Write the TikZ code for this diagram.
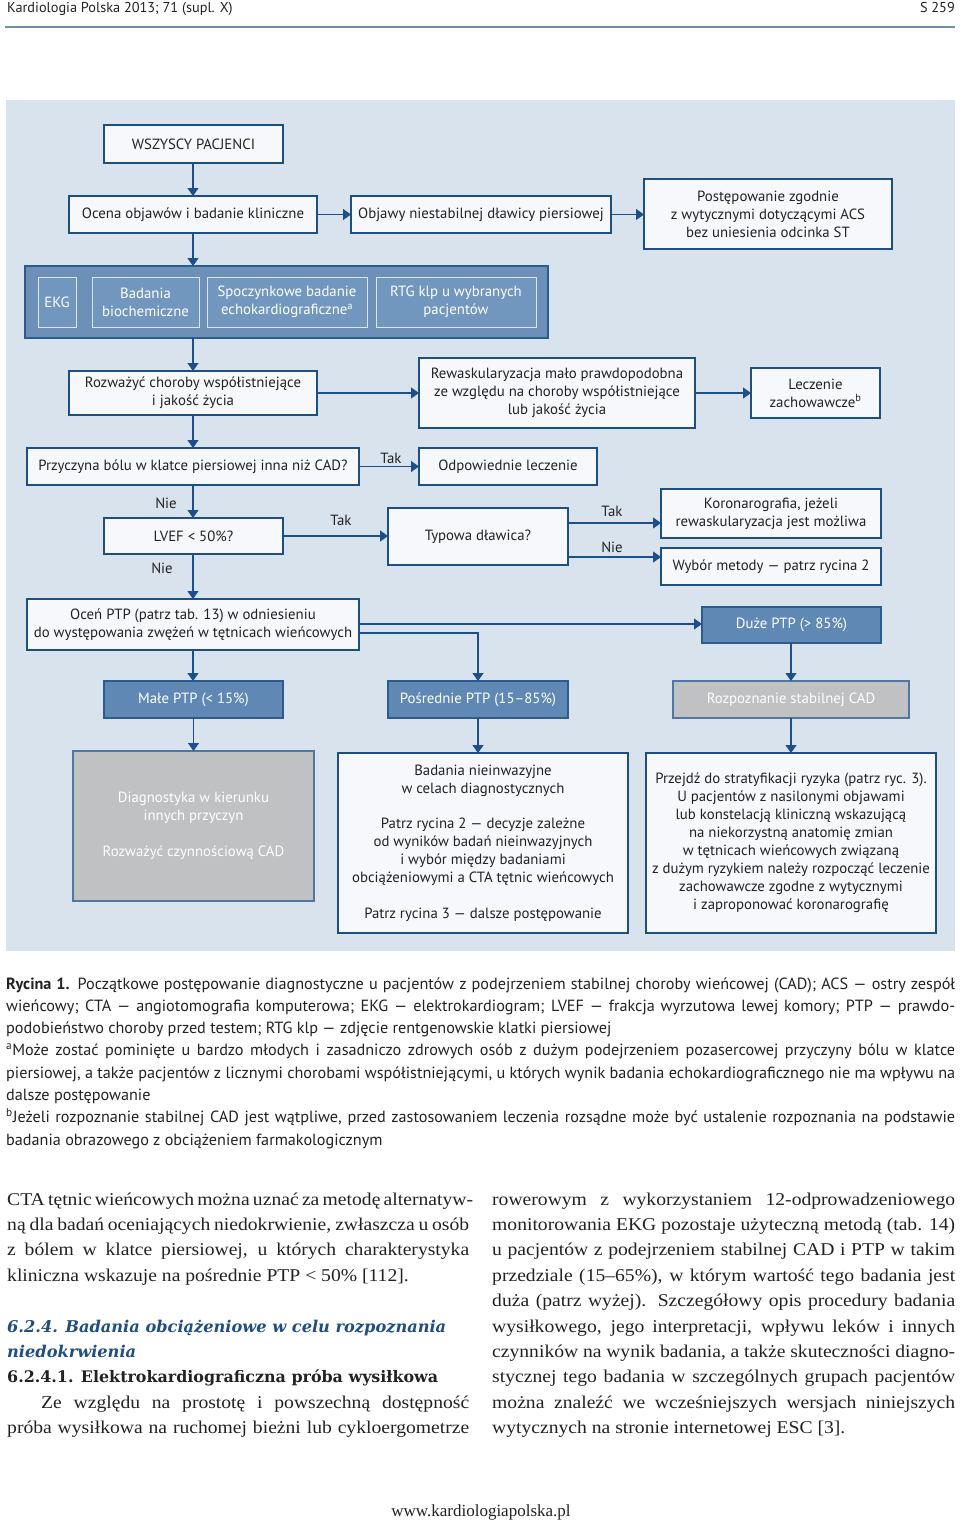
\documentclass[tikz,border=0pt]{standalone}
\usepackage{fontspec}
\setmainfont[FakeStretch=1.09]{Liberation Serif}
\newfontfamily\dfont{PT Sans}
\newfontfamily\cfont{PT Sans}
\newfontfamily\hfont{DejaVu Serif}
\newfontfamily\ffont{Liberation Serif}
\usetikzlibrary{arrows.meta,calc}
\definecolor{rulec}{HTML}{6E8FB0}
\definecolor{panelc}{HTML}{D9E3EE}
\definecolor{bordc}{HTML}{1D4F80}
\definecolor{boxc}{HTML}{F6F8FB}
\definecolor{grpc}{HTML}{6C90B8}
\definecolor{grpbord}{HTML}{2C5C8C}
\definecolor{inc}{HTML}{7197BF}
\definecolor{inbord}{HTML}{DCE5EF}
\definecolor{bluec}{HTML}{5F88B5}
\definecolor{grayc}{HTML}{BFC1C3}
\definecolor{graybord}{HTML}{4F77A2}
\definecolor{arrc}{HTML}{1D4F8A}
\definecolor{headc}{HTML}{1F4E85}
\definecolor{txtc}{HTML}{222222}
\tikzset{
  box/.style={draw=bordc, fill=boxc, line width=1.2pt, inner sep=0pt, outer sep=0pt, align=center,
    font=\dfont\fontsize{14.8}{18}\selectfont, text=txtc},
  bluebox/.style={box, fill=bluec, draw=grpbord, text=white},
  graybox/.style={box, fill=grayc, draw=graybord, text=white},
  grpbox/.style={draw=grpbord, fill=grpc, line width=1.2pt, inner sep=0pt, outer sep=0pt},
  inbox/.style={box, fill=inc, draw=inbord, line width=1pt, text=white},
  arr/.style={draw=arrc, line width=1.2pt, -{Triangle[length=8pt,width=11pt]}},
  lbl/.style={font=\dfont\fontsize{14.8}{18}\selectfont, text=txtc, inner sep=0pt},
  capt/.style={anchor=base west, inner sep=0pt, font=\cfont\fontsize{16.2}{18}\selectfont, text=txtc},
  bodyt/.style={anchor=base west, inner sep=0pt, font=\fontsize{18}{20}\selectfont, text=txtc},
  headt/.style={anchor=base west, inner sep=0pt, font=\hfont\fontsize{16.2}{20}\selectfont, text=txtc},
}
\newcommand{\bx}[6]{\node[#1, minimum width=#4pt, minimum height=#5pt] (#2) at (#3) {#6};}
\begin{document}
\begin{tikzpicture}[x=1pt,y=-1pt]
\useasboundingbox (0,0) rectangle (960,1524);
\fill[white] (0,0) rectangle (960,1524);
% header
\node[anchor=base west, inner sep=0pt, font=\cfont\fontsize{14.3}{16}\selectfont, text=txtc] (hdr) at (7,12) {Kardiologia Polska 2013; 71 (supl. X)};
\node[anchor=base east, inner sep=0pt, font=\cfont\fontsize{14.3}{16}\selectfont, text=txtc] (pg) at (955,12) {S 259};
\draw[rulec, line width=2pt] (5,26.5) -- (955,26.5);
% panel
\fill[panelc] (6,100) rectangle (955,951);
% boxes
\bx{box}{wsz}{193.5,144}{179}{38}{WSZYSCY PACJENCI}
\bx{box}{ocena}{193,214.5}{248}{37}{Ocena objawów i badanie kliniczne}
\bx{box}{objawy}{481,214.5}{260}{37}{Objawy niestabilnej dławicy piersiowej}
\bx{box}{post}{768,214}{248}{70}{Postępowanie zgodnie\\z wytycznymi dotyczącymi ACS\\bez uniesienia odcinka ST}
\bx{grpbox}{grp}{286.5,302}{523}{72}{}
\bx{inbox}{ekg}{57,302}{38}{50}{EKG}
\bx{inbox}{bio}{145.5,302}{107}{50}{Badania\\biochemiczne}
\bx{inbox}{echo}{287,302}{160}{50}{Spoczynkowe badanie\\echokardiograficzne\textsuperscript{a}}
\bx{inbox}{rtg}{456,302}{160}{50}{RTG klp u wybranych\\pacjentów}
\bx{box}{rozw}{193,393}{248}{44}{Rozważyć choroby współistniejące\\i jakość życia}
\bx{box}{rew}{557,393}{276}{70}{Rewaskularyzacja mało prawdopodobna\\ze względu na choroby współistniejące\\lub jakość życia}
\bx{box}{lecz}{815.5,393}{129}{50}{Leczenie\\zachowawcze\textsuperscript{b}}
\bx{box}{przy}{193,466.5}{332}{37}{Przyczyna bólu w klatce piersiowej inna niż CAD?}
\bx{box}{odp}{508,466.5}{178}{37}{Odpowiednie leczenie}
\bx{box}{lvef}{193.5,536}{179}{36}{LVEF < 50\%?}
\bx{box}{typ}{478,536.5}{180}{57}{Typowa dławica?}
\bx{box}{koro}{771,513.5}{220}{49}{Koronarografia, jeżeli\\rewaskularyzacja jest możliwa}
\bx{box}{wyb}{771,566.5}{220}{37}{Wybór metody — patrz rycina 2}
\bx{box}{ocen}{193,624.5}{332}{51}{Oceń PTP (patrz tab. 13) w odniesieniu\\do występowania zwężeń w tętnicach wieńcowych}
\bx{bluebox}{male}{193.5,699.5}{179}{37}{Małe PTP (< 15\%)}
\bx{bluebox}{posr}{478,699.5}{180}{37}{Pośrednie PTP (15–85\%)}
\bx{bluebox}{duze}{791.5,625}{179}{36}{Duże PTP (> 85\%)}
\bx{graybox}{rozp}{791,699.5}{236}{37}{Rozpoznanie stabilnej CAD}
\bx{graybox}{diag}{193.5,826}{241}{150}{Diagnostyka w kierunku\\innych przyczyn\\[18pt]Rozważyć czynnościową CAD}
\bx{box}{bad}{483,843}{290}{180}{Badania nieinwazyjne\\w celach diagnostycznych\\[17pt]Patrz rycina 2 — decyzje zależne\\od wyników badań nieinwazyjnych\\i wybór między badaniami\\obciążeniowymi a CTA tętnic wieńcowych\\[18pt]Patrz rycina 3 — dalsze postępowanie}
\bx{box}{przej}{791,843}{290}{180}{Przejdź do stratyfikacji ryzyka (patrz ryc. 3).\\U pacjentów z nasilonymi objawami\\lub konstelacją kliniczną wskazującą\\na niekorzystną anatomię zmian\\w tętnicach wieńcowych związaną\\z dużym ryzykiem należy rozpocząć leczenie\\zachowawcze zgodne z wytycznymi\\i zaproponować koronarografię}
% connectors
\draw[arr] (wsz.south -| ocena.north) -- (ocena.north);
\draw[arr] (ocena.east) -- (objawy.west);
\draw[arr] (objawy.east) -- (objawy.east -| post.west);
\draw[arr] (ocena.south) -- (ocena.south |- grp.north);
\draw[arr] (ocena.south |- grp.south) -- (rozw.north);
\draw[arr] (rozw.east) -- (rozw.east -| rew.west);
\draw[arr] (rew.east) -- (rew.east -| lecz.west);
\draw[arr] (rozw.south) -- (przy.north);
\draw[arr] (przy.east) -- (przy.east -| odp.west);
\draw[arr] (przy.south) -- (przy.south |- lvef.north);
\draw[arr] (lvef.east) -- (lvef.east -| typ.west);
\coordinate (t1) at ([yshift=13.5pt]typ.east);
\coordinate (t2) at ([yshift=-20.5pt]typ.east);
\draw[arr] (t1) -- (t1 -| koro.west);
\draw[arr] (t2) -- (t2 -| wyb.west);
\draw[arr] (przy.south |- lvef.south) -- (przy.south |- ocen.north);
\coordinate (o1) at ([yshift=0.5pt]ocen.east);
\coordinate (o2) at ([yshift=-8.5pt]ocen.east);
\draw[arr] (o1) -- (o1 -| duze.west);
\draw[arr] (o2) -| (posr.north);
\draw[arr] (ocen.south) -- (ocen.south |- male.north);
\draw[arr] (male.south) -- (male.south |- diag.north);
\draw[arr] (posr.south) -- (posr.south |- bad.north);
\draw[arr] (duze.south -| rozp.north) -- (rozp.north);
\draw[arr] (rozp.south) -- (rozp.south |- przej.north);
% labels
\node[lbl] (l1) at (391,458) {Tak};
\node[lbl] (l2) at (166,503) {Nie};
\node[lbl] (l3) at (341,520) {Tak};
\node[lbl] (l4) at (612,511) {Tak};
\node[lbl] (l5) at (612,547) {Nie};
\node[lbl] (l6) at (162,568) {Nie};
% caption
\node[capt] (c1) at (6,989) {\makebox[949pt][s]{\textbf{Rycina 1.} Początkowe postępowanie diagnostyczne u pacjentów z podejrzeniem stabilnej choroby wieńcowej (CAD); ACS — ostry zespół}};
\node[capt] (c2) at (6,1011.3) {\makebox[949pt][s]{wieńcowy; CTA — angiotomografia komputerowa; EKG — elektrokardiogram; LVEF — frakcja wyrzutowa lewej komory; PTP — prawdo-}};
\node[capt] (c3) at (6,1033.6) {podobieństwo choroby przed testem; RTG klp — zdjęcie rentgenowskie klatki piersiowej};
\node[capt] (c4) at (6,1055.9) {\makebox[949pt][s]{\textsuperscript{a}Może zostać pominięte u bardzo młodych i zasadniczo zdrowych osób z dużym podejrzeniem pozasercowej przyczyny bólu w klatce}};
\node[capt] (c5) at (6,1078.2) {\makebox[949pt][s]{piersiowej, a także pacjentów z licznymi chorobami współistniejącymi, u których wynik badania echokardiograficznego nie ma wpływu na}};
\node[capt] (c6) at (6,1100.5) {dalsze postępowanie};
\node[capt] (c7) at (6,1122.8) {\makebox[949pt][s]{\textsuperscript{b}Jeżeli rozpoznanie stabilnej CAD jest wątpliwe, przed zastosowaniem leczenia rozsądne może być ustalenie rozpoznania na podstawie}};
\node[capt] (c8) at (6,1145.1) {badania obrazowego z obciążeniem farmakologicznym};
% body left
\node[bodyt] (b1) at (7,1205) {\makebox[462pt][s]{CTA tętnic wieńcowych można uznać za metodę alternatyw-}};
\node[bodyt] (b2) at (7,1230.4) {\makebox[462pt][s]{ną dla badań oceniających niedokrwienie, zwłaszcza u osób}};
\node[bodyt] (b3) at (7,1255.8) {\makebox[462pt][s]{z bólem w klatce piersiowej, u których charakterystyka}};
\node[bodyt] (b4) at (7,1281.2) {kliniczna wskazuje na pośrednie PTP < 50\% [112].};
\node[headt, text=headc] (h1) at (7,1332) {\bfseries\itshape 6.2.4. Badania obciążeniowe w celu rozpoznania};
\node[headt, text=headc] (h2) at (7,1357.4) {\bfseries\itshape niedokrwienia};
\node[headt, font=\hfont\fontsize{15.9}{20}\selectfont] (h3) at (7,1382.8) {\bfseries 6.2.4.1. Elektrokardiograficzna próba wysiłkowa};
\node[bodyt] (b5) at (41,1408.2) {\makebox[428pt][s]{Ze względu na prostotę i powszechną dostępność}};
\node[bodyt] (b6) at (7,1433.6) {\makebox[462pt][s]{próba wysiłkowa na ruchomej bieżni lub cykloergometrze}};
% body right
\node[bodyt] (r1) at (492,1205) {\makebox[463pt][s]{rowerowym z wykorzystaniem 12-odprowadzeniowego}};
\node[bodyt] (r2) at (492,1230.4) {\makebox[463pt][s]{monitorowania EKG pozostaje użyteczną metodą (tab. 14)}};
\node[bodyt] (r3) at (492,1255.8) {\makebox[463pt][s]{u pacjentów z podejrzeniem stabilnej CAD i PTP w takim}};
\node[bodyt] (r4) at (492,1281.2) {\makebox[463pt][s]{przedziale (15–65\%), w którym wartość tego badania jest}};
\node[bodyt] (r5) at (492,1306.6) {\makebox[463pt][s]{duża (patrz wyżej). Szczegółowy opis procedury badania}};
\node[bodyt] (r6) at (492,1332) {\makebox[463pt][s]{wysiłkowego, jego interpretacji, wpływu leków i innych}};
\node[bodyt] (r7) at (492,1357.4) {\makebox[463pt][s]{czynników na wynik badania, a także skuteczności diagno-}};
\node[bodyt] (r8) at (492,1382.8) {\makebox[463pt][s]{stycznej tego badania w szczególnych grupach pacjentów}};
\node[bodyt] (r9) at (492,1408.2) {\makebox[463pt][s]{można znaleźć we wcześniejszych wersjach niniejszych}};
\node[bodyt] (r10) at (492,1433.6) {wytycznych na stronie internetowej ESC [3].};
% footer
\node[anchor=base, inner sep=0pt, font=\ffont\fontsize{17}{18}\selectfont, text=txtc] (ftr) at (481,1516) {www.kardiologiapolska.pl};
\end{tikzpicture}
\end{document}
